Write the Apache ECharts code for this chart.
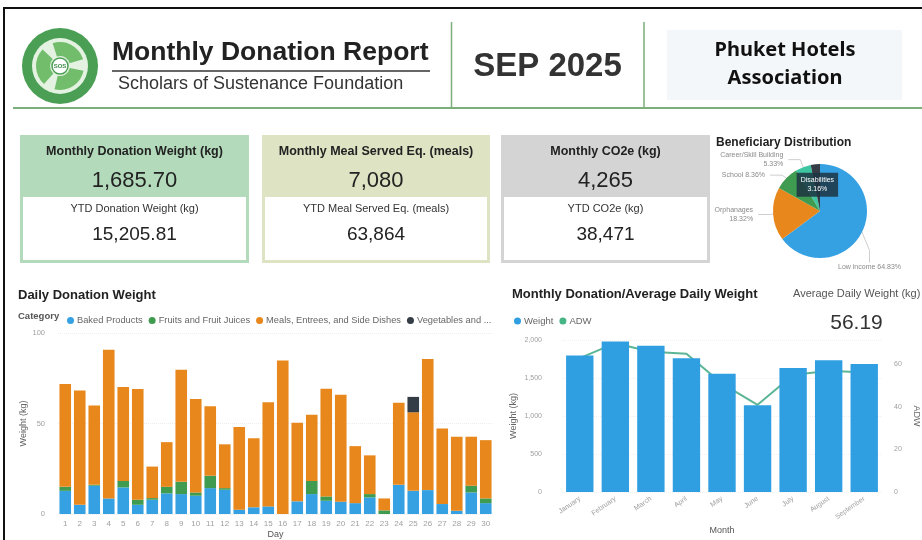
<!DOCTYPE html>
<html>
<head>
<meta charset="utf-8">
<script src="https://cdn.jsdelivr.net/npm/echarts@6/dist/echarts.min.js"></script>
<style>
  html, body { margin: 0; padding: 0; background: #fff; }
  #main { width: 922px; height: 540px; }
</style>
</head>
<body>
<div id="main"></div>
<script>
// daily donation weight (kg) by category, Sep 2025
var days = ['1','2','3','4','5','6','7','8','9','10','11','12','13','14','15','16','17','18','19','20','21','22','23','24','25','26','27','28','29','30'];
var categories = ['Baked Products', 'Fruits and Fruit Juices', 'Meals, Entrees, and Side Dishes', 'Vegetables and ...'];
var baked  = [12.8, 5.1, 15.6, 8.6, 14.7, 5.1, 7.9, 11.4, 11.0, 10.1, 14.3, 13.4, 2.4, 3.7, 4.2, 0, 7.0, 11.0, 7.3, 6.8, 6.0, 9.2, 0, 16.1, 12.8, 13.2, 5.5, 1.8, 11.9, 6.0];
var fruits = [2.2, 0, 0.5, 0, 3.6, 2.8, 0.9, 3.6, 6.8, 1.8, 6.8, 0.9, 0, 0, 0, 0, 0, 7.3, 2.4, 0, 0, 1.8, 2.0, 0, 0, 0, 0, 0, 3.7, 2.6];
var meals  = [56.8, 63.2, 43.8, 82.1, 51.8, 61.1, 17.4, 24.7, 61.9, 51.7, 38.4, 24.2, 45.6, 38.1, 57.5, 84.8, 43.4, 36.6, 59.5, 59.1, 31.5, 21.4, 6.6, 45.3, 43.4, 72.5, 41.8, 40.9, 27.1, 32.2];
var veg    = [0, 0, 0, 0, 0, 0, 0, 0, 0, 0, 0, 0, 0, 0, 0, 0, 0, 0, 0, 0, 0, 0, 0, 0, 8.5, 0, 0, 0, 0, 0];

// monthly totals and average daily weight
var months = ['January', 'February', 'March', 'April', 'May', 'June', 'July', 'August', 'September'];
var monthlyWeight = [1795, 1980, 1925, 1760, 1555, 1140, 1630, 1735, 1685.7];
var adw = [63, 70, 66, 65, 51, 41, 55, 57, 56.19];

// beneficiaries (%)
var pieNames  = ['Low income', 'Orphanages', 'School', 'Career/Skill Building', 'Disabilities'];
var pieValues = [64.83, 18.32, 8.36, 5.33, 3.16];

// kpi cards
var kpiTitles = ['Monthly Donation Weight (kg)', 'Monthly Meal Served Eq. (meals)', 'Monthly CO2e (kg)'];
var kpiValues = ['1,685.70', '7,080', '4,265'];
var ytdTitles = ['YTD Donation Weight (kg)', 'YTD Meal Served Eq. (meals)', 'YTD CO2e (kg)'];
var ytdValues = ['15,205.81', '63,864', '38,471'];
var avgDaily = '56.19';

var FONT = '"Liberation Sans", Arial, sans-serif';
var chart = echarts.init(document.getElementById('main'));

var cardBox = [[20, 229, '#b3dbbb'], [262, 228, '#dde3c3'], [501, 209, '#d4d4d4']];
var cards = [];
cardBox.forEach(function (c, i) {
  var cx = c[0] + c[1] / 2;
  cards.push({ type: 'rect', shape: { x: c[0], y: 135, width: c[1], height: 128 }, style: { fill: c[2] } });
  cards.push({ type: 'rect', shape: { x: c[0] + 3, y: 197, width: c[1] - 6, height: 63 }, style: { fill: '#fff' } });
  cards.push({ type: 'text', style: { x: cx, y: 152, text: kpiTitles[i], align: 'center', verticalAlign: 'middle', font: 'bold 12.5px ' + FONT, fill: '#222' } });
  cards.push({ type: 'text', style: { x: cx, y: 181, text: kpiValues[i], align: 'center', verticalAlign: 'middle', font: '22px ' + FONT, fill: '#222' } });
  cards.push({ type: 'text', style: { x: cx, y: 209, text: ytdTitles[i], align: 'center', verticalAlign: 'middle', font: '11px ' + FONT, fill: '#333' } });
  cards.push({ type: 'text', style: { x: cx, y: 235, text: ytdValues[i], align: 'center', verticalAlign: 'middle', font: '19px ' + FONT, fill: '#222' } });
});

var logo = {
  type: 'group', x: 60, y: 66,
  children: [
    { type: 'circle', shape: { cx: 0, cy: 0, r: 38 }, style: { fill: '#4a9f55' } },
    { type: 'circle', shape: { cx: 0, cy: 0, r: 28 }, style: { fill: '#e4f2e1' } },
    { type: 'sector', shape: { cx: 0, cy: 0, r0: 10, r: 24, startAngle: 0.2, endAngle: 1.8 }, style: { fill: '#72bd6c' } },
    { type: 'sector', shape: { cx: 0, cy: 0, r0: 10, r: 24, startAngle: 2.3, endAngle: 3.9 }, style: { fill: '#72bd6c' } },
    { type: 'sector', shape: { cx: 0, cy: 0, r0: 10, r: 24, startAngle: 4.4, endAngle: 6.0 }, style: { fill: '#72bd6c' } },
    { type: 'circle', shape: { cx: 0, cy: 0, r: 8 }, style: { fill: '#fff', stroke: '#4a9f55', lineWidth: 1.5 } },
    { type: 'text', style: { x: 0, y: 0, text: 'SOS', align: 'center', verticalAlign: 'middle', font: 'bold 6px ' + FONT, fill: '#3d8c47' } }
  ]
};

var graphics = [
  { type: 'line', shape: { x1: 3, y1: 8, x2: 922, y2: 8 }, style: { stroke: '#111', lineWidth: 2 } },
  { type: 'line', shape: { x1: 4, y1: 8, x2: 4, y2: 540 }, style: { stroke: '#111', lineWidth: 2 } },
  logo,
  { type: 'text', style: { x: 112, y: 53, text: 'Monthly Donation Report', verticalAlign: 'middle', font: 'bold 26.5px ' + FONT, fill: '#222' } },
  { type: 'line', shape: { x1: 112, y1: 71, x2: 430, y2: 71 }, style: { stroke: '#666', lineWidth: 2 } },
  { type: 'text', style: { x: 118, y: 84, text: 'Scholars of Sustenance Foundation', verticalAlign: 'middle', font: '18px ' + FONT, fill: '#333' } },
  { type: 'line', shape: { x1: 13, y1: 108, x2: 922, y2: 108 }, style: { stroke: '#7aae7a', lineWidth: 2 } },
  { type: 'line', shape: { x1: 451.5, y1: 22, x2: 451.5, y2: 108 }, style: { stroke: '#7aae7a', lineWidth: 1.5 } },
  { type: 'line', shape: { x1: 644, y1: 22, x2: 644, y2: 108 }, style: { stroke: '#7aae7a', lineWidth: 1.5 } },
  { type: 'text', style: { x: 547.5, y: 67, text: 'SEP 2025', align: 'center', verticalAlign: 'middle', font: 'bold 33px ' + FONT, fill: '#333' } },
  { type: 'rect', shape: { x: 667, y: 30, width: 235, height: 70 }, style: { fill: '#f4f7f9' } },
  { type: 'text', style: { x: 785, y: 50, text: 'Phuket Hotels', align: 'center', verticalAlign: 'middle', font: 'bold 20px "Noto Sans", sans-serif', fill: '#111' } },
  { type: 'text', style: { x: 785, y: 78, text: 'Association', align: 'center', verticalAlign: 'middle', font: 'bold 20px "Noto Sans", sans-serif', fill: '#111' } },
  { type: 'text', style: { x: 716, y: 142.5, text: 'Beneficiary Distribution', verticalAlign: 'middle', font: 'bold 12px ' + FONT, fill: '#222' } },
  { type: 'text', style: { x: 18, y: 295, text: 'Daily Donation Weight', verticalAlign: 'middle', font: 'bold 13px ' + FONT, fill: '#222' } },
  { type: 'text', style: { x: 18, y: 316, text: 'Category', verticalAlign: 'middle', font: 'bold 9.5px ' + FONT, fill: '#555' } },
  { type: 'text', style: { x: 512, y: 294, text: 'Monthly Donation/Average Daily Weight', verticalAlign: 'middle', font: 'bold 13px ' + FONT, fill: '#222' } },
  { type: 'text', style: { x: 793, y: 294, text: 'Average Daily Weight (kg)', verticalAlign: 'middle', font: '11px ' + FONT, fill: '#555' } },
  { type: 'text', style: { x: 856.5, y: 323, text: avgDaily, align: 'center', verticalAlign: 'middle', font: '21px ' + FONT, fill: '#333' } }
].concat(cards);

var catColors = ['#35a1e3', '#3f9b4f', '#e8871b', '#343c45'];
var catData = [baked, fruits, meals, veg];
var stackSeries = categories.map(function (name, i) {
  return {
    name: name, type: 'bar', stack: 'day', xAxisIndex: 0, yAxisIndex: 0,
    data: catData[i], barCategoryGap: '20%',
    itemStyle: { color: catColors[i] }
  };
});

var pieColors = ['#35a1e3', '#e8871b', '#3f9b4f', '#3ec6a3', '#343c45'];
var pieData = pieNames.map(function (n, i) {
  var item = { name: n, value: pieValues[i], itemStyle: { color: pieColors[i] } };
  if (n === 'Orphanages' || n === 'Career/Skill Building') {
    item.label = { formatter: '{b}\n{c}%', align: 'right' };
  }
  if (n === 'Disabilities') {
    item.label = { position: 'inside', formatter: '{b}\n{c}%', color: '#fff', backgroundColor: 'rgba(28,52,66,0.85)', padding: [3, 4], align: 'center' };
    item.labelLine = { show: false };
  }
  return item;
});

var axisGray = '#a0a0a0';

chart.setOption({
  animation: false,
  backgroundColor: '#fff',
  textStyle: { fontFamily: FONT },
  graphic: graphics,
  legend: [
    {
      data: categories, left: 62, top: 311, icon: 'circle', itemWidth: 7, itemHeight: 7, itemGap: 6,
      textStyle: { fontSize: 9.3, color: '#666', padding: [0, 0, 0, -2] }
    },
    {
      data: ['Weight', 'ADW'], left: 509, top: 311, icon: 'circle', itemWidth: 7, itemHeight: 7, itemGap: 6,
      textStyle: { fontSize: 9.5, color: '#666', padding: [0, 0, 0, -2] }
    }
  ],
  grid: [
    { left: 58, right: 429, top: 333, bottom: 25 },
    { left: 562, right: 36, top: 340, bottom: 48 }
  ],
  xAxis: [
    {
      type: 'category', gridIndex: 0, data: days,
      axisLine: { show: false }, axisTick: { show: false },
      axisLabel: { interval: 0, fontSize: 8, color: axisGray, margin: 6 },
      name: 'Day', nameLocation: 'middle', nameGap: 16,
      nameTextStyle: { fontSize: 9, color: '#555' }
    },
    {
      type: 'category', gridIndex: 1, data: months,
      axisLine: { show: false }, axisTick: { show: false },
      axisLabel: { interval: 0, rotate: 35, fontSize: 7, color: axisGray, margin: 6 },
      name: 'Month', nameLocation: 'middle', nameGap: 34,
      nameTextStyle: { fontSize: 9, color: '#555' }
    }
  ],
  yAxis: [
    {
      type: 'value', gridIndex: 0, min: 0, max: 100, interval: 50,
      axisLabel: { fontSize: 7.5, color: axisGray, margin: 13 },
      splitLine: { lineStyle: { color: '#eeeeee', type: 'dotted' } },
      name: 'Weight (kg)', nameLocation: 'middle', nameGap: 30, nameRotate: 90,
      nameTextStyle: { fontSize: 9, color: '#666' }
    },
    {
      type: 'value', gridIndex: 1, min: 0, max: 2000, interval: 500,
      axisLabel: { fontSize: 7, color: axisGray, margin: 20, formatter: function (v) { return v.toLocaleString('en-US'); } },
      splitLine: { lineStyle: { color: '#f0f0f0', type: 'dotted' } },
      name: 'Weight (kg)', nameLocation: 'middle', nameGap: 44, nameRotate: 90,
      nameTextStyle: { fontSize: 9, color: '#666' }
    },
    {
      type: 'value', gridIndex: 1, min: 0, max: 71.5, interval: 20, position: 'right',
      axisLabel: { fontSize: 7, color: axisGray, margin: 12, showMaxLabel: false },
      splitLine: { show: false },
      name: 'ADW', nameLocation: 'middle', nameGap: 30, nameRotate: -90,
      nameTextStyle: { fontSize: 9, color: '#666' }
    }
  ],
  series: stackSeries.concat([
    {
      name: 'Weight', type: 'bar', xAxisIndex: 1, yAxisIndex: 1, data: monthlyWeight,
      barCategoryGap: '23%', z: 3, itemStyle: { color: '#2f9fe2' }
    },
    {
      name: 'ADW', type: 'line', xAxisIndex: 1, yAxisIndex: 2, data: adw, z: 1,
      symbol: 'none', itemStyle: { color: '#45b585' }, lineStyle: { color: '#5cb594', width: 2 }
    },
    {
      name: 'Beneficiary', type: 'pie', center: [820, 211], radius: 47, startAngle: 90,
      data: pieData,
      label: { fontSize: 7, color: '#8a8a8a', formatter: '{b} {c}%', lineHeight: 9, overflow: 'none' },
      labelLine: { length: 8, length2: 12, lineStyle: { color: '#cfcfcf', width: 1 } },
      // Power BI puts the large slice's label under the pie
      labelLayout: function (p) {
        if (p.dataIndex === 0) {
          return { x: 838, y: 267, align: 'left', verticalAlign: 'middle' };
        }
      }
    }
  ])
});
</script>
</body>
</html>
